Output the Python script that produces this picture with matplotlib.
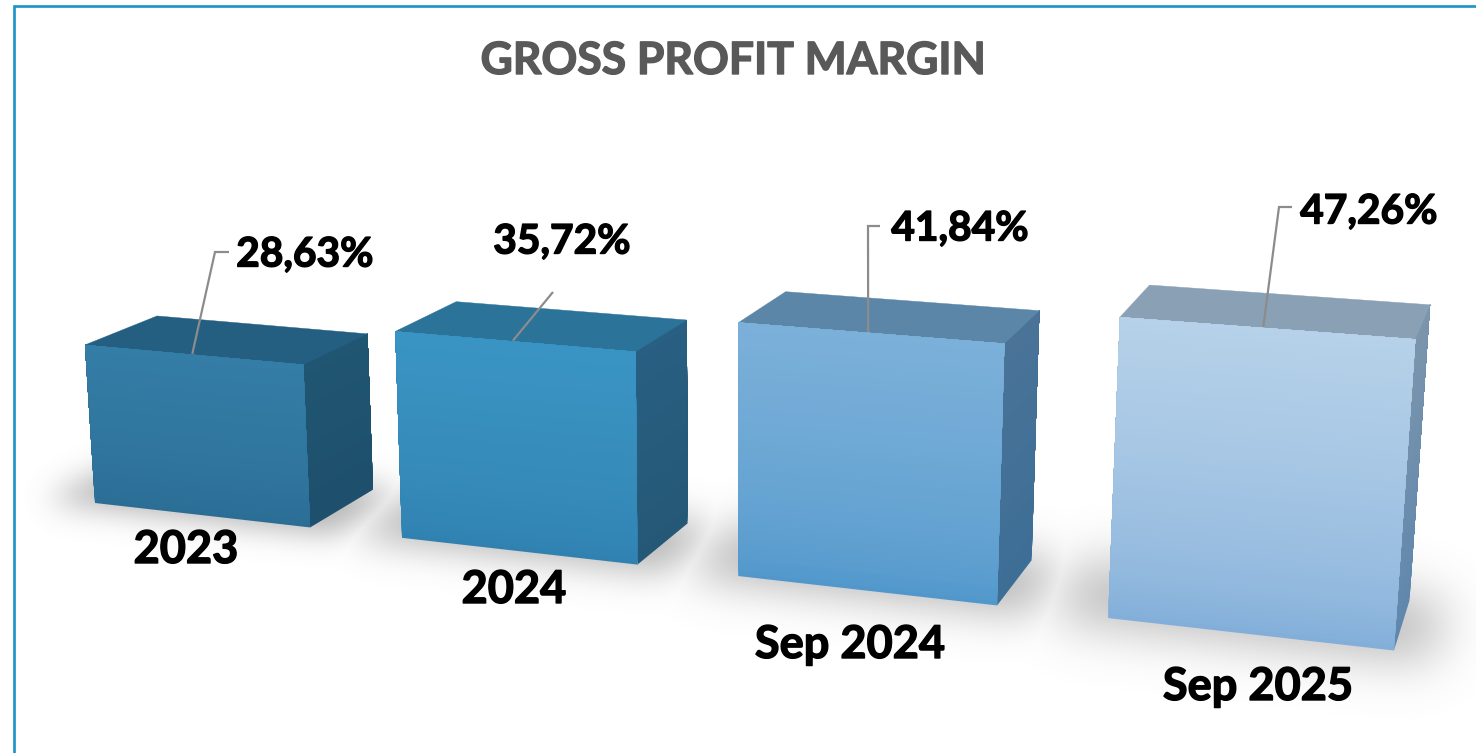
import numpy as np
import matplotlib
matplotlib.use("Agg")
import matplotlib.pyplot as plt
import matplotlib.patheffects as pe
from matplotlib.collections import PolyCollection
from matplotlib.path import Path
from matplotlib.colors import to_rgb

# --- data ---
categories = ["2023", "2024", "Sep 2024", "Sep 2025"]
margins = [28.63, 35.72, 41.84, 47.26]
value_labels = ["28,63%", "35,72%", "41,84%", "47,26%"]
title = "GROSS PROFIT MARGIN"

# --- face colours ---
front_top = ["#347DA6", "#3A94C3", "#7BB0D9", "#B6D1E9"]
front_bottom = ["#2A6C94", "#2F80AF", "#4F96CB", "#7FACD8"]
top_face = ["#245F82", "#2B7399", "#5B86A8", "#8AA0B5"]
side_top = ["#205672", "#285F82", "#4A7397", "#7C95AD"]
side_bottom = ["#1E4F6C", "#255876", "#3D6E96", "#5F87AD"]

# --- layout: camera (homogeneous projection) ---
WIDTH = 0.71
VP_X = (-6659.0, -264.0)
VP_Y = (1689.0, -300.0)
VP_Z = (723.0, 10420.0)
ORIGIN = (95.0, 503.0)
A_X, A_Y, A_Z = -1 / 23.0, 0.0463, -0.000548

cat_pos = [(186, 550), (514, 590), (850, 645), (1258, 687)]
val_pos = [(305, 255), (562, 242), (960, 229), (1369, 212)]
leader_tail = [[(215, 252), (229, 252)], [(553, 292)],
               [(868, 226), (880, 226)], [(1279, 207), (1292, 207)]]


def project(x, y, z):
    x, y, z = np.asarray(x, float), np.asarray(y, float), np.asarray(z, float)
    w = 1 + A_X * x + A_Y * y + A_Z * z
    u = (ORIGIN[0] + A_X * VP_X[0] * x + A_Y * VP_Y[0] * y + A_Z * VP_Z[0] * z) / w
    v = (ORIGIN[1] + A_X * VP_X[1] * x + A_Y * VP_Y[1] * y + A_Z * VP_Z[1] * z) / w
    return np.column_stack([u, v])


def blur(a, sigma):
    r = int(3 * sigma)
    k = np.exp(-0.5 * (np.arange(-r, r + 1) / sigma) ** 2)
    k /= k.sum()
    a = np.apply_along_axis(lambda m: np.convolve(m, k, mode="same"), 0, a)
    return np.apply_along_axis(lambda m: np.convolve(m, k, mode="same"), 1, a)


fig = plt.figure(figsize=(14.76, 7.53), dpi=100)
ax = fig.add_axes([0, 0, 1, 1])
ax.set_xlim(0, 1476)
ax.set_ylim(753, 0)
ax.axis("off")

# shadows on the ground
step = 3
xx, yy = np.meshgrid(np.arange(0, 1476, step) + step / 2, np.arange(0, 753, step) + step / 2)
pts = np.column_stack([xx.ravel(), yy.ravel()])
alpha = np.zeros(xx.shape)
for i in range(len(margins)):
    foot = project([i - 0.15, i + WIDTH + 0.09, i + WIDTH + 0.09, i - 0.15],
                   [-0.09, -0.09, 1.05, 1.05], [0, 0, 0, 0])
    mask = Path(foot).contains_points(pts).reshape(xx.shape).astype(float)
    alpha = np.maximum(alpha, blur(mask, (15 + 4 * i) / step))
rgba = np.zeros(xx.shape + (4,))
rgba[..., :3] = 0.45
rgba[..., 3] = alpha * 0.55
ax.imshow(rgba, extent=(0, 1476, 753, 0), aspect="auto", zorder=1, interpolation="bilinear")
ax.set_xlim(0, 1476)
ax.set_ylim(753, 0)


def strips(x0, y0, x1, y1, height, c_top, c_bottom, z, gamma=1.0):
    # nested polygons, painted bottom-up, so that no seams show between steps
    n = 70
    levels = np.linspace(0, height, n + 1)
    polys, cols = [], []
    ct, cb = np.array(to_rgb(c_top)), np.array(to_rgb(c_bottom))
    for k in range(n):
        polys.append(project([x0, x1, x1, x0], [y0, y1, y1, y0],
                             [levels[k], levels[k], height, height]))
        f = ((k + 0.5) / n) ** gamma
        cols.append(cb + (ct - cb) * f)
    ax.add_collection(PolyCollection(polys, facecolors=cols, edgecolors="none",
                                     linewidths=0, zorder=z))


for i, v in enumerate(margins):
    z = 2 + i
    x0, x1 = i, i + WIDTH
    strips(x1, 0, x1, 1, v, side_top[i], side_bottom[i], z)
    ax.fill(*project([x0, x1, x1, x0], [0, 0, 1, 1], [v] * 4).T, color=top_face[i],
            lw=0.3, zorder=z)
    strips(x0, 0, x1, 0, v, front_top[i], front_bottom[i], z + 0.1, gamma=0.6)
    start = project([i + 0.35], [0.02], [v])
    line = np.vstack([start, np.array(leader_tail[i], float)])
    ax.plot(line[:, 0], line[:, 1], color="#8C8C8C", lw=1.6, zorder=z + 0.2,
            solid_capstyle="butt", solid_joinstyle="miter")

# frame (left and top edges only)
ax.plot([14, 14, 1476], [753, 5.5, 5.5], color="#1B93C6", lw=1.9, zorder=10,
        solid_joinstyle="miter")

font = "Lato"
def label(pos, text, size, color):
    ax.text(*pos, text, ha="center", va="center", fontsize=size, fontweight="bold",
            color=color, family=font, zorder=11,
            path_effects=[pe.withStroke(linewidth=1.0, foreground=color)])

label((734, 61), title, 32, "#595959")
for i in range(len(margins)):
    label(cat_pos[i], categories[i], 32.5, "black")
    label(val_pos[i], value_labels[i], 29.3, "black")

fig.savefig("out.png", dpi=100, facecolor="white")
